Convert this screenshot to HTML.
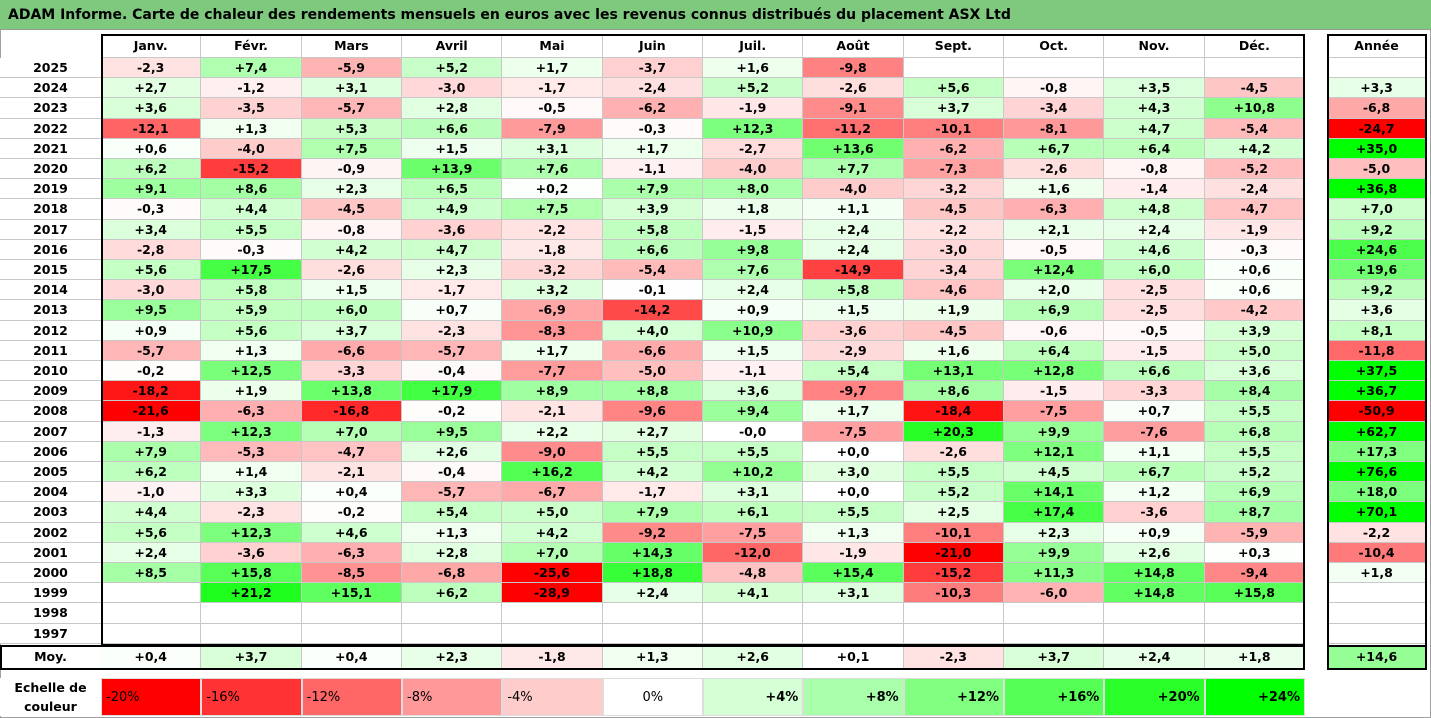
<!DOCTYPE html>
<html><head><meta charset="utf-8"><style>
body{margin:0;width:1431px;height:718px;position:relative;background:#fff;font-family:"DejaVu Sans","Liberation Sans",sans-serif;overflow:hidden}
.c{position:absolute;box-sizing:border-box;display:flex;align-items:center;justify-content:center;font-weight:bold;font-size:12.5px;color:#000;border-right:1px solid #c8c8c8;border-bottom:1px solid #c8c8c8;white-space:nowrap}
.frame{position:absolute;box-sizing:border-box;border:2px solid #000;pointer-events:none}
</style></head><body>
<div style="position:absolute;left:0;top:0;width:1431px;height:718px;box-sizing:border-box;border:1px solid #a0a0a0"></div>
<div style="position:absolute;left:0;top:0;width:1431px;height:30px;background:#7ec97e;border-bottom:1px solid #999;box-sizing:border-box;font-weight:bold;font-size:14px;line-height:30px;padding-left:8px;white-space:nowrap">ADAM Informe. Carte de chaleur des rendements mensuels en euros avec les revenus connus distribués du placement ASX Ltd</div>
<div id="grid"></div>
<script>
const months=["Janv.","Févr.","Mars","Avril","Mai","Juin","Juil.","Août","Sept.","Oct.","Nov.","Déc."];
const years=[2025,2024,2023,2022,2021,2020,2019,2018,2017,2016,2015,2014,2013,2012,2011,2010,2009,2008,2007,2006,2005,2004,2003,2002,2001,2000,1999,1998,1997];
const N=null;
const values=[
[-2.3,7.4,-5.9,5.2,1.7,-3.7,1.6,-9.8,N,N,N,N],
[2.7,-1.2,3.1,-3.0,-1.7,-2.4,5.2,-2.6,5.6,-0.8,3.5,-4.5],
[3.6,-3.5,-5.7,2.8,-0.5,-6.2,-1.9,-9.1,3.7,-3.4,4.3,10.8],
[-12.1,1.3,5.3,6.6,-7.9,-0.3,12.3,-11.2,-10.1,-8.1,4.7,-5.4],
[0.6,-4.0,7.5,1.5,3.1,1.7,-2.7,13.6,-6.2,6.7,6.4,4.2],
[6.2,-15.2,-0.9,13.9,7.6,-1.1,-4.0,7.7,-7.3,-2.6,-0.8,-5.2],
[9.1,8.6,2.3,6.5,0.2,7.9,8.0,-4.0,-3.2,1.6,-1.4,-2.4],
[-0.3,4.4,-4.5,4.9,7.5,3.9,1.8,1.1,-4.5,-6.3,4.8,-4.7],
[3.4,5.5,-0.8,-3.6,-2.2,5.8,-1.5,2.4,-2.2,2.1,2.4,-1.9],
[-2.8,-0.3,4.2,4.7,-1.8,6.6,9.8,2.4,-3.0,-0.5,4.6,-0.3],
[5.6,17.5,-2.6,2.3,-3.2,-5.4,7.6,-14.9,-3.4,12.4,6.0,0.6],
[-3.0,5.8,1.5,-1.7,3.2,-0.1,2.4,5.8,-4.6,2.0,-2.5,0.6],
[9.5,5.9,6.0,0.7,-6.9,-14.2,0.9,1.5,1.9,6.9,-2.5,-4.2],
[0.9,5.6,3.7,-2.3,-8.3,4.0,10.9,-3.6,-4.5,-0.6,-0.5,3.9],
[-5.7,1.3,-6.6,-5.7,1.7,-6.6,1.5,-2.9,1.6,6.4,-1.5,5.0],
[-0.2,12.5,-3.3,-0.4,-7.7,-5.0,-1.1,5.4,13.1,12.8,6.6,3.6],
[-18.2,1.9,13.8,17.9,8.9,8.8,3.6,-9.7,8.6,-1.5,-3.3,8.4],
[-21.6,-6.3,-16.8,-0.2,-2.1,-9.6,9.4,1.7,-18.4,-7.5,0.7,5.5],
[-1.3,12.3,7.0,9.5,2.2,2.7,-0,-7.5,20.3,9.9,-7.6,6.8],
[7.9,-5.3,-4.7,2.6,-9.0,5.5,5.5,0.0,-2.6,12.1,1.1,5.5],
[6.2,1.4,-2.1,-0.4,16.2,4.2,10.2,3.0,5.5,4.5,6.7,5.2],
[-1.0,3.3,0.4,-5.7,-6.7,-1.7,3.1,0.0,5.2,14.1,1.2,6.9],
[4.4,-2.3,-0.2,5.4,5.0,7.9,6.1,5.5,2.5,17.4,-3.6,8.7],
[5.6,12.3,4.6,1.3,4.2,-9.2,-7.5,1.3,-10.1,2.3,0.9,-5.9],
[2.4,-3.6,-6.3,2.8,7.0,14.3,-12.0,-1.9,-21.0,9.9,2.6,0.3],
[8.5,15.8,-8.5,-6.8,-25.6,18.8,-4.8,15.4,-15.2,11.3,14.8,-9.4],
[N,21.2,15.1,6.2,-28.9,2.4,4.1,3.1,-10.3,-6.0,14.8,15.8],
[N,N,N,N,N,N,N,N,N,N,N,N],
[N,N,N,N,N,N,N,N,N,N,N,N]];
const annual=[N,3.3,-6.8,-24.7,35.0,-5.0,36.8,7.0,9.2,24.6,19.6,9.2,3.6,8.1,-11.8,37.5,36.7,-50.9,62.7,17.3,76.6,18.0,70.1,-2.2,-10.4,1.8,N,N,N];
const avg=[0.4,3.7,0.4,2.3,-1.8,1.3,2.6,0.1,-2.3,3.7,2.4,1.8];
const avgAnnual=14.6;
const scaleTicks=[-20,-16,-12,-8,-4,0,4,8,12,16,20,24];

function color(v,lo,hi){
  if(v===null) return "#fff";
  let r,g,b;
  if(v<0){const t=Math.min(1,v/lo);r=255;g=b=Math.round(255*(1-t));}
  else{const t=Math.min(1,v/hi);g=255;r=b=Math.round(255*(1-t));}
  return `rgb(${r},${g},${b})`;
}
function fmt(v){
  if(v===null) return "";
  const neg=v<0||Object.is(v,-0);
  return (neg?"-":"+")+Math.abs(v).toFixed(1).replace(".",",");
}
const G=document.getElementById("grid");
const X0=101,CW=(1305-101)/12,Y0=58,RH=20.2,AX=1327,AW=100;
function cell(x,y,w,h,txt,bg,name,extra){
  const d=document.createElement("div");
  d.className="c";
  d.style.cssText=`left:${x}px;top:${y}px;width:${w}px;height:${h}px;background:${bg};`+(extra||"");
  d.textContent=txt;
  
  
  G.appendChild(d);
  return d;
}
function frame(x,y,w,h,name){
  const d=document.createElement("div");
  d.className="frame";
  d.style.cssText=`left:${x}px;top:${y}px;width:${w}px;height:${h}px;`;
  
  
  G.appendChild(d);
}
months.forEach((m,i)=>cell(X0+i*CW,34,CW,24,m,"#fff","month-header"));
cell(AX,34,AW,24,"Année","#fff","annual-header");
years.forEach((yr,r)=>{
  const y=Y0+r*RH;
  cell(0,y,X0,RH,String(yr),"#fff","year-label","border-right:none;");
  values[r].forEach((v,i)=>cell(X0+i*CW,y,CW,RH,fmt(v),color(v,-20,24),"heatmap-cell"));
  cell(AX,y,AW,RH,fmt(annual[r]),color(annual[r],-20,35),"annual-cell");
});
const YM=645,MH=24;
cell(0,YM,X0,MH,"Moy.","#fff","average-label","border-right:none;");
avg.forEach((v,i)=>cell(X0+i*CW,YM,CW,MH,fmt(v),color(v,-20,24),"average-cell"));
cell(AX,YM,AW,MH,fmt(avgAnnual),color(avgAnnual,-20,35),"average-annual-cell");
frame(X0,34,1305-X0,YM-34+1,"months-frame");
frame(0,YM,1305,MH+1,"average-row-frame");
frame(AX,34,AW,YM+MH-34+1,"annual-frame");
frame(AX,YM,AW,MH+1,"annual-average-frame");
const lab=cell(0,678,X0,38,"Echelle de couleur","#fff","scale-label","border:none;white-space:normal;text-align:center;line-height:19px;");
const YS=678;
scaleTicks.forEach((t,i)=>{
  const al=t<0?"flex-start":(t===0?"center":"flex-end");
  cell(X0+i*CW,YS,CW,38,(t>0?"+":"")+t+"%",color(t,-20,24),"scale-swatch",
  `font-weight:normal;font-size:13px;justify-content:${al};padding:0 4px;border:1px solid #ddd;`+(t>0?"font-weight:bold;":""));
});
</script>
</body></html>
